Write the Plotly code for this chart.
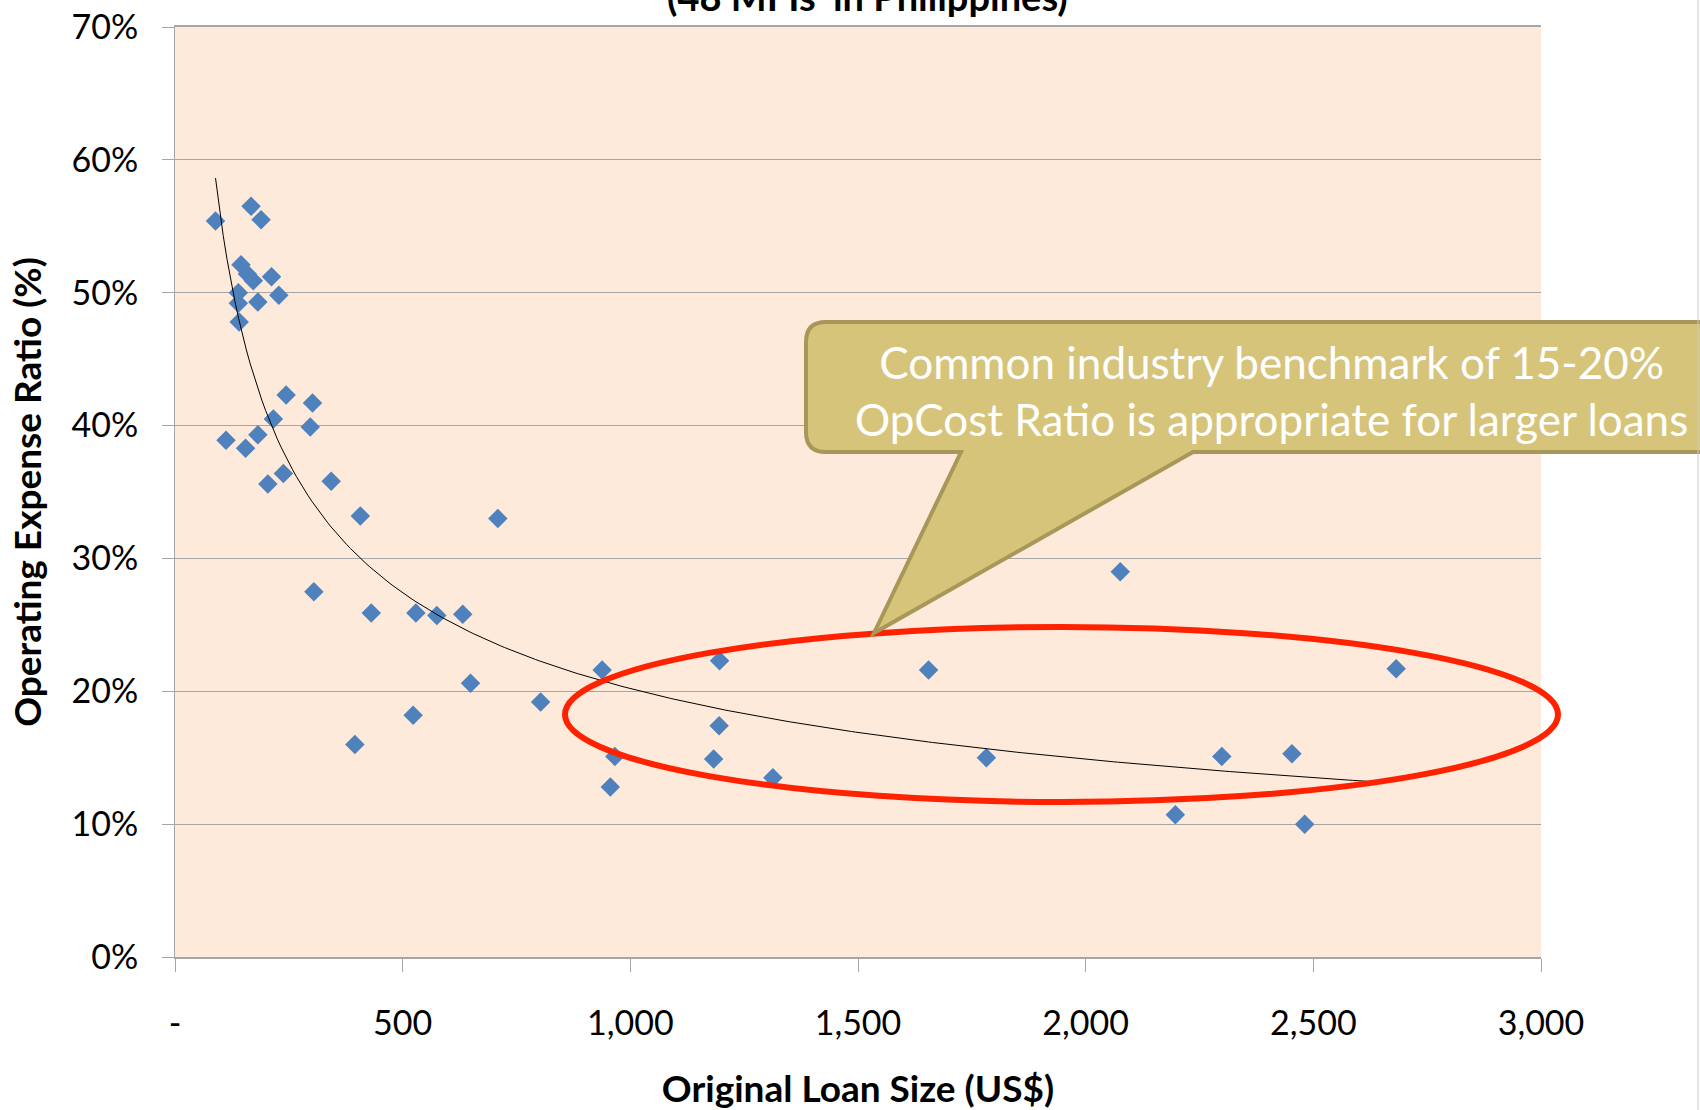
import numpy as np
import plotly.graph_objects as go

# ---------------- data ----------------
loan_size = [89, 167, 189, 145, 159, 172, 212, 139, 139, 182, 228, 141,
             244, 302, 216, 297, 112, 155, 182, 238, 204, 343, 407, 709,
             305, 431, 529, 575, 632, 938, 649, 803, 523, 395, 1196, 1655,
             966, 956, 1195, 1183, 1313, 1782, 2076, 2682, 2299, 2453, 2197, 2481]
opex_ratio = [55.4, 56.5, 55.5, 52.1, 51.4, 50.9, 51.2, 50.0, 49.2, 49.3, 49.8, 47.8,
              42.3, 41.7, 40.5, 39.9, 38.9, 38.3, 39.3, 36.4, 35.6, 35.8, 33.2, 33.0,
              27.5, 25.9, 25.9, 25.7, 25.8, 21.6, 20.6, 19.2, 18.2, 16.0, 22.3, 21.6,
              15.1, 12.8, 17.4, 14.9, 13.5, 15.0, 29.0, 21.7, 15.1, 15.3, 10.7, 10.0]

x_tickvals = [0, 500, 1000, 1500, 2000, 2500, 3000]
x_ticktext = ["-", "500", "1,000", "1,500", "2,000", "2,500", "3,000"]
y_tickvals = [0, 10, 20, 30, 40, 50, 60, 70]
y_ticktext = ["0%", "10%", "20%", "30%", "40%", "50%", "60%", "70%"]

title_text = "(48 MFIs' in Philippines)"
x_title = "Original Loan Size (US$)"
y_title = "Operating Expense Ratio (%)"
callout_text = "Common industry benchmark of 15-20%<br>OpCost Ratio is appropriate for larger loans"

trend_end = 2620  # extent of the trendline as drawn

# power trendline (least squares in log-log space, as Excel does)
lx = np.log(np.array(loan_size, dtype=float))
ly = np.log(np.array(opex_ratio, dtype=float))
b, log_a = np.polyfit(lx, ly, 1)
trend_x = np.linspace(min(loan_size), trend_end, 300)
trend_y = np.exp(log_a) * trend_x ** b

# ---------------- layout helpers (pixel -> paper) ----------------
W, H = 1700, 1110
PL, PR, PT, PB = 175, 1541, 27, 957


def px(p):
    return (p - PL) / (PR - PL)


def py(p):
    return (PB - p) / (PB - PT)


FONT = "Lato, 'Open Sans', sans-serif"
GRID = "#A6A6A6"

fig = go.Figure()
fig.add_trace(go.Scatter(
    x=loan_size, y=opex_ratio, mode="markers",
    marker=dict(symbol="diamond", size=15, color="#4F81BD", line=dict(width=0)),
    showlegend=False, hoverinfo="x+y"))
fig.add_trace(go.Scatter(
    x=trend_x, y=trend_y, mode="lines",
    line=dict(color="#000000", width=1),
    showlegend=False, hoverinfo="skip"))

# red ellipse
fig.add_shape(type="circle", xref="paper", yref="paper",
              x0=px(565), x1=px(1558), y0=py(802), y1=py(627),
              line=dict(color="#FF2200", width=6), layer="above")

# callout with pointer
r = 20
L, T, B, Rr = 806, 322, 452, 1730
pts = [
    ("M", px(L + r), py(T)),
    ("L", px(Rr), py(T)),
    ("L", px(Rr), py(B)),
    ("L", px(1193), py(B)),
    ("L", px(874), py(633)),
    ("L", px(961), py(B)),
    ("L", px(L + r), py(B)),
]
path = " ".join(f"{c} {x:.5f},{y:.5f}" for c, x, y in pts)
path += f" Q {px(L):.5f},{py(B):.5f} {px(L):.5f},{py(B - r):.5f}"
path += f" L {px(L):.5f},{py(T + r):.5f}"
path += f" Q {px(L):.5f},{py(T):.5f} {px(L + r):.5f},{py(T):.5f} Z"
fig.add_shape(type="path", xref="paper", yref="paper", path=path,
              fillcolor="#D7C47B", line=dict(color="#A9975A", width=4), layer="above")

fig.add_annotation(xref="paper", yref="paper", x=px(1271), y=py(391),
                   text=callout_text, showarrow=False, align="center",
                   xanchor="center", yanchor="middle",
                   font=dict(family=FONT, size=44, color="#FFFFFF"))

# chart title, cropped at the top edge as in the source picture
fig.add_annotation(xref="paper", yref="paper", x=px(867), y=py(21),
                   text=f"<b>{title_text}</b>", showarrow=False,
                   xanchor="center", yanchor="bottom",
                   font=dict(family=FONT, size=38, color="#000000"))

# right-edge frame line
fig.add_shape(type="line", xref="paper", yref="paper",
              x0=px(1698), x1=px(1698), y0=py(0), y1=py(H),
              line=dict(color="#C8C8C8", width=1), layer="above")

fig.update_layout(
    width=W, height=H, autosize=False,
    margin=dict(l=PL, r=W - PR, t=PT, b=H - PB),
    paper_bgcolor="#FFFFFF", plot_bgcolor="#FDEADA",
    font=dict(family=FONT, color="#000000"),
    xaxis=dict(
        automargin=False,
        range=[0, 3000], tickvals=x_tickvals, ticktext=x_ticktext,
        showgrid=False, zeroline=False,
        showline=True, linecolor=GRID, linewidth=2, mirror=True,
        ticks="outside", ticklen=13, tickcolor=GRID, tickwidth=1,
        tickfont=dict(family=FONT, size=34, color="#000000"),
        ticklabelstandoff=22,
        title=dict(text=f"<b>{x_title}</b>", standoff=36,
                   font=dict(family=FONT, size=37, color="#000000")),
    ),
    yaxis=dict(
        automargin=False,
        range=[0, 70], tickvals=y_tickvals, ticktext=y_ticktext,
        showgrid=True, gridcolor=GRID, gridwidth=1, zeroline=False,
        showline=True, linecolor=GRID, linewidth=1,
        ticks="outside", ticklen=12, tickcolor=GRID, tickwidth=1,
        tickfont=dict(family=FONT, size=34, color="#000000"),
        ticklabelstandoff=17,
        title=dict(text=f"<b>{y_title}</b>", standoff=18,
                   font=dict(family=FONT, size=37, color="#000000")),
    ),
)

fig.write_html(
    "out.html",
    config={"displayModeBar": False},
    post_script="document.body.style.margin='0';document.body.style.overflow='hidden';",
)
